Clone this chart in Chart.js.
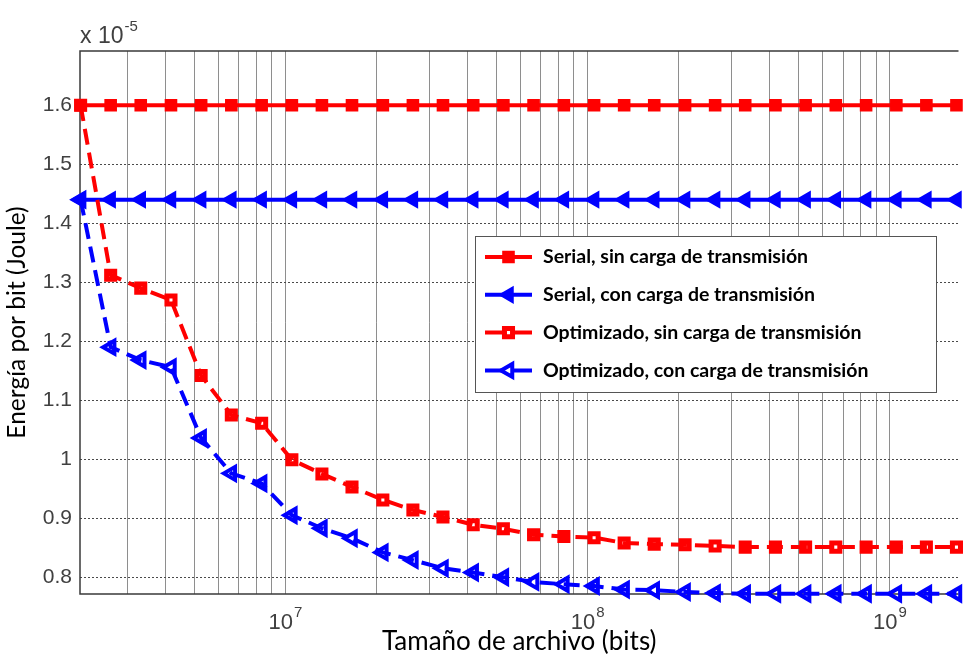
<!DOCTYPE html>
<html lang="es">
<head>
    <meta charset="UTF-8">
    <title>Energía por bit vs tamaño de archivo</title>
    <script src="https://cdn.jsdelivr.net/npm/chart.js@4"></script>
    <style>
        html, body {
            margin: 0;
            padding: 0;
            background: #fff;
            overflow: hidden;
        }
        #wrap {
            position: relative;
            width: 970px;
            height: 655px;
        }
    </style>
</head>
<body>
    <div id="wrap"><canvas id="chart"></canvas></div>

    <script>
        // file size in bits (x axis, log)
        const fileSizes = [2.10e6, 2.64e6, 3.32e6, 4.18e6, 5.26e6, 6.62e6, 8.34e6, 1.05e7, 1.32e7, 1.66e7,
                           2.10e7, 2.64e7, 3.32e7, 4.18e7, 5.26e7, 6.62e7, 8.34e7, 1.05e8, 1.32e8, 1.66e8,
                           2.10e8, 2.64e8, 3.32e8, 4.18e8, 5.26e8, 6.62e8, 8.34e8, 1.05e9, 1.32e9, 1.66e9];

        // energy per bit, in units of 1e-5 J
        const serialSin = [1.60, 1.60, 1.60, 1.60, 1.60, 1.60, 1.60, 1.60, 1.60, 1.60,
                           1.60, 1.60, 1.60, 1.60, 1.60, 1.60, 1.60, 1.60, 1.60, 1.60,
                           1.60, 1.60, 1.60, 1.60, 1.60, 1.60, 1.60, 1.60, 1.60, 1.60];
        const serialCon = [1.44, 1.44, 1.44, 1.44, 1.44, 1.44, 1.44, 1.44, 1.44, 1.44,
                           1.44, 1.44, 1.44, 1.44, 1.44, 1.44, 1.44, 1.44, 1.44, 1.44,
                           1.44, 1.44, 1.44, 1.44, 1.44, 1.44, 1.44, 1.44, 1.44, 1.44];
        const optSin = [1.600, 1.312, 1.290, 1.270, 1.142, 1.075, 1.061, 0.999, 0.975, 0.953,
                        0.931, 0.914, 0.902, 0.889, 0.882, 0.872, 0.869, 0.867, 0.858, 0.856,
                        0.855, 0.853, 0.851, 0.851, 0.851, 0.851, 0.851, 0.851, 0.851, 0.851];
        const optCon = [1.440, 1.190, 1.168, 1.156, 1.036, 0.976, 0.959, 0.905, 0.883, 0.866,
                        0.842, 0.829, 0.815, 0.808, 0.800, 0.792, 0.788, 0.785, 0.779, 0.778,
                        0.775, 0.773, 0.772, 0.772, 0.772, 0.772, 0.772, 0.772, 0.772, 0.772];

        const seriesLabels = ['Serial, sin carga de transmisión', 'Serial, con carga de transmisión',
                              'Optimizado, sin carga de transmisión', 'Optimizado, con carga de transmisión'];

        // ticks
        const yTicks = [0.8, 0.9, 1, 1.1, 1.2, 1.3, 1.4, 1.5, 1.6];
        const yTickLabels = ['0.8', '0.9', '1', '1.1', '1.2', '1.3', '1.4', '1.5', '1.6'];
        const xDecades = [1e6, 1e7, 1e8, 1e9];
        const xMajorTicks = [1e7, 1e8, 1e9];
        const xMajorBase = ['10', '10', '10'];
        const xMajorExp = ['7', '8', '9'];
        const yExponent = ['x 10', '-5'];

        const xMin = 2.09e6, xMax = 1.686e9;
        const yMin = 0.7715, yMax = 1.692;

        // every 1..9 x 10^n inside the range gets a grid line
        const xGrid = [];
        xDecades.forEach(d => {
            for (let m = 1; m <= 9; m++) {
                const v = m * d;
                if (v > xMin && v < xMax) xGrid.push(v);
            }
        });

        const pts = arr => fileSizes.map((x, i) => ({ x: x, y: arr[i] }));

        Chart.defaults.font.family = '"Liberation Sans", Arial, sans-serif';
        const tickFont = '"Liberation Sans", Arial, sans-serif';

        const decor = {
            id: 'decor',
            beforeDatasetsDraw(chart) {
                const { ctx, chartArea: a } = chart;
                ctx.save();
                ctx.strokeStyle = '#3a3a3a';
                ctx.lineWidth = 1.5;
                ctx.beginPath();
                ctx.moveTo(a.right, a.top);
                ctx.lineTo(a.left, a.top);
                ctx.lineTo(a.left, a.bottom);
                ctx.lineTo(a.right, a.bottom);
                ctx.stroke();
                ctx.restore();
            },
            afterDatasetsDraw(chart) {
                // legend box inside the plot
                const ctx = chart.ctx;
                const bx = 475, by = 236, bw = 461, bh = 156;
                ctx.save();
                ctx.fillStyle = '#fff';
                ctx.fillRect(bx, by, bw, bh);
                ctx.strokeStyle = '#555';
                ctx.lineWidth = 1;
                ctx.strokeRect(bx + 0.5, by + 0.5, bw, bh);
                chart.data.datasets.forEach((ds, i) => {
                    const cy = by + 21 + i * 37.8;
                    ctx.setLineDash([]);
                    ctx.strokeStyle = ds.borderColor;
                    ctx.lineWidth = ds.borderWidth;
                    ctx.beginPath();
                    ctx.moveTo(bx + 10, cy);
                    ctx.lineTo(bx + 57, cy);
                    ctx.stroke();
                    ctx.fillStyle = ds.pointBackgroundColor === 'rgba(0,0,0,0)' ? '#fff' : ds.pointBackgroundColor;
                    ctx.strokeStyle = ds.pointBorderColor;
                    ctx.lineWidth = ds.pointBorderWidth;
                    Chart.helpers.drawPoint(ctx, {
                        pointStyle: ds.pointStyle,
                        rotation: ds.pointRotation || 0,
                        radius: ds.pointRadius,
                        borderWidth: ds.pointBorderWidth
                    }, bx + 33.5, cy);
                    ctx.fillStyle = '#000';
                    ctx.font = 'bold 19.5px Lato, "Open Sans", sans-serif';
                    ctx.textBaseline = 'middle';
                    ctx.textAlign = 'left';
                    ctx.fillText(ds.label, bx + 68, cy);
                });
                ctx.restore();
            },
            afterDraw(chart) {
                const { ctx, chartArea: a } = chart;
                const xs = chart.scales.x;
                ctx.save();
                ctx.fillStyle = '#404040';
                ctx.textBaseline = 'alphabetic';
                ctx.textAlign = 'left';
                // "x 10^-5" multiplier above the y axis
                ctx.font = '23px ' + tickFont;
                ctx.fillText(yExponent[0], a.left, 43);
                const w = ctx.measureText(yExponent[0]).width;
                ctx.font = '15px ' + tickFont;
                ctx.fillText(yExponent[1], a.left + w + 1, 31);
                // decade labels 10^n under the x axis
                xMajorTicks.forEach((v, i) => {
                    const px = xs.getPixelForValue(v);
                    ctx.font = '22px ' + tickFont;
                    const w1 = ctx.measureText(xMajorBase[i]).width;
                    ctx.font = '15px ' + tickFont;
                    const w2 = ctx.measureText(xMajorExp[i]).width;
                    const x0 = px - (w1 + w2 + 1) / 2;
                    ctx.font = '22px ' + tickFont;
                    ctx.fillText(xMajorBase[i], x0, a.bottom + 35);
                    ctx.font = '15px ' + tickFont;
                    ctx.fillText(xMajorExp[i], x0 + w1 + 1, a.bottom + 23);
                });
                ctx.restore();
            }
        };

        const ctx = document.getElementById('chart').getContext('2d');
        new Chart(ctx, {
            type: 'line',
            data: {
                datasets: [{
                    label: seriesLabels[0],
                    data: pts(serialSin),
                    borderColor: '#ff0000',
                    borderWidth: 4,
                    pointStyle: 'rect',
                    pointRadius: 7.5,
                    pointBackgroundColor: '#ff0000',
                    pointBorderColor: '#ff0000',
                    pointBorderWidth: 2,
                    clip: false,
                    order: 4
                }, {
                    label: seriesLabels[1],
                    data: pts(serialCon),
                    borderColor: '#0000ff',
                    borderWidth: 4,
                    pointStyle: 'triangle',
                    pointRotation: -90,
                    pointRadius: 8.5,
                    pointBackgroundColor: '#0000ff',
                    pointBorderColor: '#0000ff',
                    pointBorderWidth: 2,
                    clip: false,
                    order: 3
                }, {
                    label: seriesLabels[2],
                    data: pts(optSin),
                    borderColor: '#ff0000',
                    borderWidth: 4,
                    borderDash: [16, 8],
                    pointStyle: 'rect',
                    pointRadius: 5.7,
                    pointBackgroundColor: 'rgba(0,0,0,0)',
                    pointBorderColor: '#ff0000',
                    pointBorderWidth: 5,
                    clip: false,
                    order: 2
                }, {
                    label: seriesLabels[3],
                    data: pts(optCon),
                    borderColor: '#0000ff',
                    borderWidth: 4,
                    borderDash: [16, 8],
                    pointStyle: 'triangle',
                    pointRotation: -90,
                    pointRadius: 7.5,
                    pointBackgroundColor: 'rgba(0,0,0,0)',
                    pointBorderColor: '#0000ff',
                    pointBorderWidth: 4,
                    clip: false,
                    order: 1
                }]
            },
            options: {
                responsive: true,
                maintainAspectRatio: false,
                devicePixelRatio: 1,
                animation: false,
                events: [],
                layout: { padding: { top: 51, left: 0, right: 0, bottom: 0 } },
                plugins: {
                    legend: { display: false },
                    tooltip: { enabled: false }
                },
                scales: {
                    x: {
                        type: 'logarithmic',
                        min: xMin,
                        max: xMax,
                        afterBuildTicks: s => { s.ticks = xGrid.map(v => ({ value: v })); },
                        afterFit: s => { s.height = 61; },
                        grid: { color: 'rgba(50,50,50,0.55)', lineWidth: 1, drawTicks: false },
                        border: { display: false, dash: [] },
                        ticks: {
                            autoSkip: false,
                            maxRotation: 0,
                            callback: () => ''
                        },
                        title: {
                            display: true,
                            text: 'Tamaño de archivo (bits)',
                            color: '#000',
                            font: { family: 'Lato, "Open Sans", sans-serif', size: 26, lineHeight: 1 },
                            padding: { top: 0, bottom: 0 }
                        }
                    },
                    y: {
                        min: yMin,
                        max: yMax,
                        afterBuildTicks: s => { s.ticks = yTicks.map(v => ({ value: v })); },
                        afterFit: s => { s.width = 80; },
                        grid: { color: '#4a4a4a', lineWidth: 1, drawTicks: false },
                        border: { display: false, dash: [2, 2] },
                        ticks: {
                            padding: 8,
                            color: '#404040',
                            font: { size: 21 },
                            callback: (v, i) => yTickLabels[i]
                        },
                        title: {
                            display: true,
                            text: 'Energía por bit (Joule)',
                            color: '#000',
                            font: { family: 'Lato, "Open Sans", sans-serif', size: 24.5, lineHeight: 1.2 },
                            padding: { top: 2, bottom: 0 }
                        }
                    }
                }
            },
            plugins: [decor]
        });
    </script>
</body>
</html>
